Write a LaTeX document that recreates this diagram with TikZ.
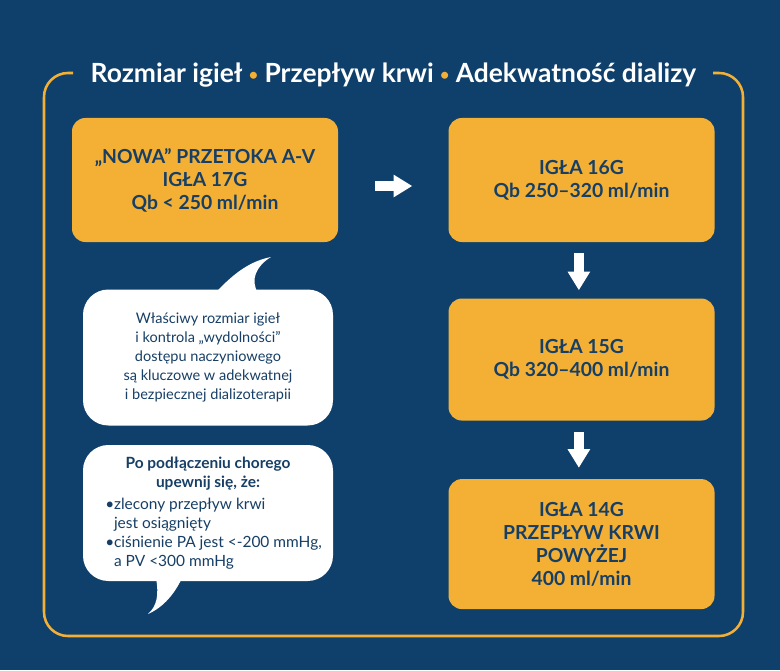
\documentclass[tikz,border=0pt]{standalone}
\usepackage{fontspec}
\setmainfont{Lato}
\usepackage{tikz}
\usetikzlibrary{positioning}
\usetikzlibrary{arrows.meta}
\definecolor{navy}{HTML}{0F406B}
\definecolor{amber}{HTML}{F3B034}
\definecolor{ink}{HTML}{173F66}
\tikzstyle{igla} = [rectangle, rounded corners=10pt, minimum width=199.5pt, minimum height=93pt, text centered, align=center, fill=amber, text=ink, font=\fontsize{14.5}{17.25}\selectfont\bfseries]
\tikzstyle{bubble} = [rectangle, rounded corners=19pt, minimum width=187.5pt, minimum height=102pt, fill=white, text=ink, font=\fontsize{10.9}{14.25}\selectfont]
\tikzstyle{arrow} = [line width=7.5pt, white, -{Triangle[length=14pt,width=16pt]}]
\newcommand{\kropka}{{\color{amber}\fontsize{12}{12}\selectfont\raisebox{1.5pt}{•}}}

\begin{document}
\begin{tikzpicture}[x=0.75pt, y=-0.75pt]
\fill[navy] (0,0) rectangle (780,670);
\useasboundingbox (0,0) rectangle (780,670);
% ramka z tytulem
\draw[amber, line width=1.9pt, rounded corners=18pt] (73,73) -- (44,73) -- (44,636) -- (743,636) -- (743,73) -- (713,73);
\node (T) [anchor=base, text=white, font=\fontsize{19.8}{19.8}\selectfont\bfseries] at (393.5,83) {Rozmiar igieł \kropka{} Przepływ krwi \kropka{} Adekwatność dializy};

\node (P1) [igla] at (205,180) {„NOWA” PRZETOKA A-V\\IGŁA 17G\\Qb < 250 ml/min};
\node (P2) [igla, right=82.5pt of P1] {IGŁA 16G\\Qb 250–320 ml/min};
\node (P3) [igla, minimum height=91.5pt, below=42pt of P2] {IGŁA 15G\\Qb 320–400 ml/min};
\node (P4) [igla, minimum height=97.5pt, below=43.5pt of P3] {IGŁA 14G\\PRZEPŁYW KRWI\\POWYŻEJ\\400 ml/min};
\draw [arrow, shorten <=27.75pt, shorten >=27pt] ([yshift=-4.5pt]P1.east) -- ([yshift=-4.5pt]P2.west);
\draw [arrow, shorten <=8.25pt, shorten >=6pt] ([xshift=-2pt]P2.south) -- ([xshift=-2pt]P3.north);
\draw [arrow, shorten <=8.25pt, shorten >=8.25pt] ([xshift=-2pt]P3.south) -- ([xshift=-2pt]P4.north);

% dymki
\node (B1) [bubble, align=center] at (208,357.5) {Właściwy rozmiar igieł\\i kontrola „wydolności”\\dostępu naczyniowego\\są kluczowe w adekwatnej\\i bezpiecznej dializoterapii};
\fill[white] (215,293) .. controls (228,280) and (245,262) .. (271,257) .. controls (256,266) and (250,280) .. (258,293) -- cycle;
\node (B2) [bubble, font=\fontsize{11.6}{14.25}\selectfont] at (208,513) {\parbox{175pt}{\centering\bfseries Po podłączeniu chorego\\upewnij się, że:\par\vspace{2pt}
\raggedright\mdseries\leftskip=10.5pt
\hangindent=6.5pt\hangafter=1\makebox[6.5pt][l]{•}zlecony przepływ krwi\newline jest osiągnięty\par
\hangindent=6.5pt\hangafter=1\makebox[6.5pt][l]{•}ciśnienie PA jest <-200 mmHg,\newline a PV <300 mmHg}};
\fill[white] (156,578) .. controls (159,595) and (157,606) .. (148,614) .. controls (164,607) and (175,593) .. (182,578) -- cycle;
\end{tikzpicture}
\end{document}
